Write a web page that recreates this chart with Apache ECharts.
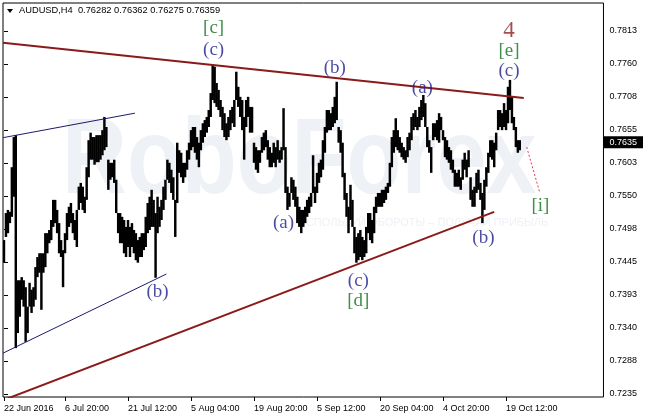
<!DOCTYPE html>
<html><head><meta charset="utf-8">
<script src="https://cdn.jsdelivr.net/npm/echarts@6/dist/echarts.min.js"></script>
<style>html,body{margin:0;padding:0;background:#fff}#c{width:646px;height:414px}</style>
</head><body><div id="c"></div>
<script>
// H4 bar highs / lows (each item ~ 2 bars)
const highs = [
0.7480,0.7523,0.7528,0.7525,0.7596,0.7644,0.7647,0.7416,0.7416,0.7421,
0.7416,0.7405,0.7374,0.7412,0.7401,0.7405,0.7437,0.7453,0.7459,0.7459,
0.7459,0.7491,0.7491,0.7496,0.7512,0.7544,0.7544,0.7528,0.7507,0.7480,
0.7464,0.7491,0.7523,0.7533,0.7539,0.7523,0.7512,0.7528,0.7565,0.7571,
0.7565,0.7549,0.7596,0.7639,0.7651,0.7644,0.7644,0.7647,0.7647,0.7647,
0.7655,0.7676,0.7660,0.7608,0.7603,0.7603,0.7608,0.7576,0.7523,0.7523,
0.7517,0.7512,0.7501,0.7512,0.7501,0.7507,0.7496,0.7491,0.7480,0.7485,
0.7491,0.7491,0.7517,0.7539,0.7549,0.7560,0.7544,0.7523,0.7549,0.7533,
0.7544,0.7565,0.7576,0.7608,0.7603,0.7592,0.7580,0.7544,0.7635,0.7623,
0.7619,0.7603,0.7603,0.7623,0.7635,0.7655,0.7660,0.7660,0.7644,0.7635,
0.7655,0.7666,0.7671,0.7676,0.7687,0.7714,0.7759,0.7756,0.7730,0.7719,
0.7703,0.7692,0.7682,0.7666,0.7676,0.7687,0.7692,0.7703,0.7748,0.7724,
0.7708,0.7703,0.7676,0.7703,0.7708,0.7692,0.7692,0.7635,0.7628,0.7623,
0.7623,0.7644,0.7651,0.7655,0.7639,0.7628,0.7619,0.7635,0.7628,0.7639,
0.7623,0.7628,0.7690,0.7628,0.7565,0.7555,0.7580,0.7576,0.7565,0.7549,
0.7533,0.7528,0.7528,0.7533,0.7544,0.7549,0.7555,0.7615,0.7565,0.7587,
0.7603,0.7608,0.7639,0.7660,0.7687,0.7687,0.7682,0.7692,0.7708,0.7732,
0.7660,0.7655,0.7635,0.7587,0.7555,0.7533,0.7568,0.7544,0.7501,0.7485,
0.7491,0.7496,0.7485,0.7480,0.7501,0.7523,0.7523,0.7512,0.7533,0.7549,
0.7555,0.7555,0.7560,0.7560,0.7565,0.7571,0.7603,0.7644,0.7655,0.7674,
0.7655,0.7644,0.7635,0.7628,0.7623,0.7644,0.7651,0.7676,0.7682,0.7687,
0.7676,0.7692,0.7703,0.7711,0.7698,0.7660,0.7639,0.7628,0.7666,0.7666,
0.7671,0.7682,0.7676,0.7655,0.7644,0.7639,0.7628,0.7623,0.7608,0.7592,
0.7587,0.7592,0.7580,0.7608,0.7619,0.7608,0.7623,0.7580,0.7560,0.7565,
0.7587,0.7592,0.7571,0.7555,0.7576,0.7596,0.7619,0.7639,0.7639,0.7635,
0.7651,0.7687,0.7687,0.7682,0.7698,0.7687,0.7724,0.7735,0.7708,0.7676,
0.7660,0.7639,0.7639
];
const lows = [
0.7444,0.7485,0.7491,0.7507,0.7517,0.7549,0.7308,0.7332,0.7358,0.7385,
0.7374,0.7318,0.7332,0.7374,0.7364,0.7374,0.7385,0.7421,0.7428,0.7369,
0.7428,0.7437,0.7459,0.7475,0.7480,0.7501,0.7507,0.7491,0.7459,0.7453,
0.7405,0.7459,0.7480,0.7501,0.7507,0.7491,0.7480,0.7469,0.7528,0.7539,
0.7528,0.7523,0.7544,0.7580,0.7608,0.7608,0.7600,0.7604,0.7604,0.7608,
0.7615,0.7623,0.7628,0.7560,0.7576,0.7580,0.7571,0.7523,0.7491,0.7475,
0.7475,0.7459,0.7453,0.7469,0.7453,0.7469,0.7459,0.7448,0.7444,0.7453,
0.7453,0.7464,0.7469,0.7491,0.7496,0.7501,0.7501,0.7420,0.7491,0.7501,
0.7512,0.7528,0.7544,0.7576,0.7571,0.7555,0.7544,0.7485,0.7539,0.7587,
0.7580,0.7571,0.7580,0.7592,0.7608,0.7623,0.7628,0.7619,0.7608,0.7596,
0.7623,0.7635,0.7644,0.7651,0.7660,0.7676,0.7703,0.7698,0.7692,0.7687,
0.7676,0.7655,0.7644,0.7639,0.7644,0.7655,0.7666,0.7660,0.7703,0.7692,
0.7676,0.7655,0.7608,0.7660,0.7676,0.7651,0.7651,0.7603,0.7592,0.7587,
0.7603,0.7619,0.7623,0.7628,0.7608,0.7596,0.7596,0.7603,0.7596,0.7608,
0.7603,0.7608,0.7623,0.7555,0.7528,0.7533,0.7555,0.7544,0.7533,0.7507,
0.7501,0.7491,0.7501,0.7507,0.7517,0.7523,0.7533,0.7555,0.7539,0.7555,
0.7571,0.7580,0.7592,0.7619,0.7651,0.7655,0.7655,0.7660,0.7666,0.7671,
0.7635,0.7619,0.7580,0.7544,0.7517,0.7491,0.7512,0.7501,0.7459,0.7444,
0.7448,0.7453,0.7448,0.7453,0.7459,0.7491,0.7480,0.7475,0.7491,0.7523,
0.7533,0.7533,0.7533,0.7539,0.7544,0.7555,0.7565,0.7596,0.7619,0.7628,
0.7623,0.7619,0.7612,0.7608,0.7603,0.7612,0.7623,0.7639,0.7655,0.7660,
0.7655,0.7660,0.7671,0.7676,0.7660,0.7628,0.7619,0.7587,0.7639,0.7644,
0.7639,0.7635,0.7655,0.7639,0.7612,0.7608,0.7603,0.7592,0.7587,0.7565,
0.7565,0.7565,0.7560,0.7576,0.7592,0.7580,0.7596,0.7544,0.7533,0.7533,
0.7555,0.7560,0.7544,0.7507,0.7528,0.7565,0.7587,0.7612,0.7608,0.7596,
0.7623,0.7655,0.7660,0.7655,0.7660,0.7655,0.7666,0.7687,0.7666,0.7655,
0.7628,0.7619,0.7623
];
const lastClose = 0.76359;
const lastCloseLabel = '0.7635';
const titleText = 'AUDUSD,H4  0.76282 0.76362 0.76275 0.76359';

// trend lines: [barIndex, price]
const upperRed = [[-0.5, 0.7794], [264, 0.7706]];
const lowerRed = [[-0.5, 0.7225], [249, 0.7525]];
const channelTop = [[-0.5, 0.7643], [66.5, 0.7682]];
const channelBottom = [[-0.5, 0.7300], [82.5, 0.7426]];
const projection = [[265.5, 0.7628], [272, 0.7557]];

// wave labels: [barIndex, price, text, kind]
const waveLabels = [
  [106.5, 0.7818, '[c]', 'g'], [106.5, 0.7783, '(c)', 'b'],
  [168, 0.7754, '(b)', 'b'], [212.5, 0.7722, '(a)', 'b'],
  [256.5, 0.7813, '4', 'r'], [256.5, 0.7781, '[e]', 'g'], [256.5, 0.7749, '(c)', 'b'],
  [78, 0.7397, '(b)', 'b'], [142, 0.7507, '(a)', 'b'],
  [180, 0.7415, '(c)', 'b'], [180, 0.7383, '[d]', 'g'],
  [243.5, 0.7483, '(b)', 'b'], [272.5, 0.7534, '[i]', 'g']
];

const xTickIndex = [0, 31, 63, 95, 127, 159, 191, 223, 255];
const xTickLabels = ['22 Jun 2016','6 Jul 20:00','21 Jul 12:00','5 Aug 04:00','19 Aug 20:00','5 Sep 12:00','20 Sep 04:00','4 Oct 20:00','19 Oct 12:00'];
const yTickValues = [0.7235,0.72875,0.73401,0.73926,0.74452,0.74977,0.75503,0.76028,0.76554,0.77079,0.77605,0.7813];
const yTickLabels = ['0.7235','0.7288','0.7340','0.7393','0.7445','0.7498','0.7550','0.7603','0.7655','0.7708','0.7760','0.7813'];

const FONT = '"Liberation Sans", Arial, sans-serif';
const SERIF = '"Liberation Serif","DejaVu Serif",serif';
const waveColor = { b: '#1e1e8c', g: '#12701c', r: '#8e1f1f' };
const waveSize = { b: 19, g: 19, r: 23 };

function nearestLabel(v, vals, labs) {
  let best = 0, d = Infinity;
  vals.forEach((t, i) => { const dd = Math.abs(t - v); if (dd < d) { d = dd; best = i; } });
  return d < 1e-6 ? labs[best] : '';
}

const bars = highs.map((h, i) => [i, h, lows[i]]);

const chart = echarts.init(document.getElementById('c'));
const lineSeries = (data, color, width, type, z) => ({
  type: 'line', data, symbol: 'none', silent: true, clip: true, z: z || 4,
  lineStyle: { color, width, type: type || 'solid' }, animation: false
});
const yRange = { min: 0.72302, max: 0.78574 };

chart.setOption({
  animation: false,
  backgroundColor: '#ffffff',
  graphic: [
    { type: 'text', z: -10, silent: true, x: 62, y: 110, scaleX: 0.84,
      style: { text: 'RoboForex', font: 'bold 107px "Liberation Sans", sans-serif', fill: '#eef1f5' } },
    { type: 'text', z: -10, silent: true, x: 298, y: 217,
      style: { text: 'ИСПОЛЬЗУЙ ОБОРОТЫ – ПОЛУЧАЙ ПРИБЫЛЬ', font: '11px "Liberation Sans", sans-serif', fill: '#eef1f5' } },
    { type: 'polygon', silent: true, shape: { points: [[7, 9], [13, 9], [10, 13]] }, style: { fill: '#000' } },
    { type: 'text', silent: true, x: 19, y: 6,
      style: { text: titleText, font: '9.3px ' + FONT, fill: '#000' } }
  ],
  grid: { left: 3, top: 3, right: 33, bottom: 17, show: true, borderColor: '#000', borderWidth: 1 },
  xAxis: {
    type: 'value', min: -0.5, max: 304.5,
    axisLine: { show: false }, splitLine: { show: false },
    axisTick: { show: true, customValues: xTickIndex, length: 4, lineStyle: { color: '#000' } },
    axisLabel: { customValues: xTickIndex, formatter: v => nearestLabel(v, xTickIndex, xTickLabels),
      align: 'left', margin: 7, color: '#000', fontFamily: FONT, fontSize: 9 }
  },
  yAxis: [{
    type: 'value', position: 'right', min: yRange.min, max: yRange.max,
    axisLine: { show: false }, splitLine: { show: false },
    axisTick: { show: true, customValues: yTickValues, length: 4, lineStyle: { color: '#000' } },
    axisLabel: { customValues: yTickValues, formatter: v => nearestLabel(v, yTickValues, yTickLabels),
      margin: 6, color: '#000', fontFamily: FONT, fontSize: 9 }
  }, {
    type: 'value', position: 'right', min: yRange.min, max: yRange.max,
    axisLine: { show: false }, splitLine: { show: false }, axisTick: { show: false },
    axisLabel: { customValues: [lastClose], formatter: () => lastCloseLabel,
      margin: 0, color: '#fff', backgroundColor: '#000', padding: [2, 6, 1, 6],
      fontFamily: FONT, fontSize: 9 }
  }],
  series: [
    {
      type: 'custom', data: bars, clip: true, z: 3, silent: true,
      encode: { x: 0, y: [1, 2] },
      renderItem(params, api) {
        const x = api.value(0);
        const t = api.coord([x, api.value(1)]);
        const b = api.coord([x, api.value(2)]);
        const w = api.size([1, 0])[0] * 1.25;
        return { type: 'rect', shape: { x: t[0] - w / 2, y: t[1], width: w, height: Math.max(1, b[1] - t[1]) },
          style: { fill: '#000' } };
      }
    },
    lineSeries(upperRed, '#8b1a1a', 2),
    lineSeries(lowerRed, '#8b1a1a', 2),
    lineSeries(channelTop, '#1b1b6e', 1),
    lineSeries(channelBottom, '#1b1b6e', 1),
    lineSeries(projection, '#e0395a', 1, [2, 2]),
    {
      type: 'scatter', symbolSize: 0, z: 6, silent: true,
      data: waveLabels.map(w => ({
        value: [w[0], w[1]],
        label: { show: true, position: 'inside', formatter: w[2], color: waveColor[w[3]],
          fontFamily: SERIF, fontSize: waveSize[w[3]] }
      }))
    }
  ]
});
</script></body></html>
